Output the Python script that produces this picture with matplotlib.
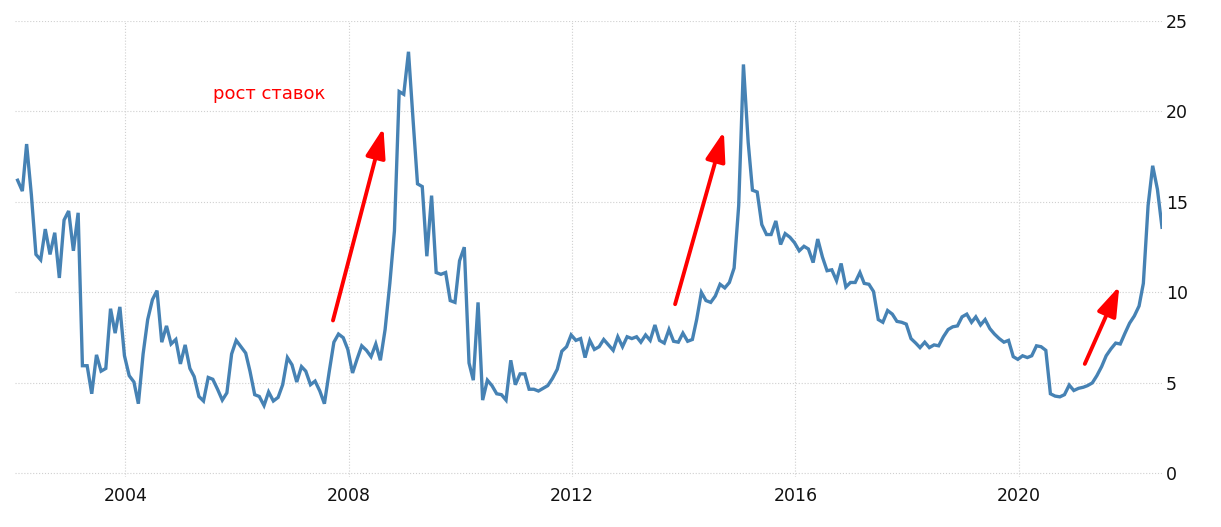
import matplotlib
matplotlib.use('Agg')
import matplotlib.pyplot as plt
import matplotlib.dates as mdates
import pandas as pd
from datetime import datetime

# monthly rate, Jan 2002 .. Jul 2022
rate = [
    16.2, 15.6, 18.2, 15.4, 12.1, 11.8, 13.5, 12.1, 13.3, 10.8, 14.0, 14.5,   # 2002
    12.3, 14.4, 5.95, 5.95, 4.4, 6.55, 5.65, 5.8, 9.1, 7.75, 9.2, 6.5,        # 2003
    5.4, 5.05, 3.85, 6.6, 8.5, 9.6, 10.1, 7.25, 8.15, 7.15, 7.4, 6.05,        # 2004
    7.1, 5.8, 5.35, 4.25, 4.0, 5.3, 5.2, 4.65, 4.05, 4.45, 6.6, 7.35,         # 2005
    7.0, 6.65, 5.65, 4.35, 4.25, 3.75, 4.5, 4.0, 4.2, 4.9, 6.4, 6.0,          # 2006
    5.05, 5.9, 5.65, 4.9, 5.1, 4.55, 3.85, 5.6, 7.25, 7.7, 7.5, 6.85,         # 2007
    5.55, 6.35, 7.05, 6.8, 6.45, 7.15, 6.25, 7.95, 10.5, 13.4, 21.1, 20.95,   # 2008
    23.3, 19.4, 16.0, 15.85, 12.0, 15.35, 11.1, 11.0, 11.1, 9.55, 9.45, 11.75,  # 2009
    12.5, 6.1, 5.15, 9.45, 4.05, 5.15, 4.85, 4.4, 4.35, 4.05, 6.25, 4.9,      # 2010
    5.5, 5.5, 4.65, 4.65, 4.55, 4.7, 4.85, 5.25, 5.75, 6.75, 7.0, 7.65,       # 2011
    7.35, 7.45, 6.4, 7.35, 6.85, 7.0, 7.4, 7.1, 6.8, 7.55, 7.0, 7.55,         # 2012
    7.45, 7.55, 7.25, 7.65, 7.35, 8.2, 7.35, 7.2, 7.95, 7.3, 7.25, 7.75,      # 2013
    7.3, 7.4, 8.5, 10.0, 9.55, 9.45, 9.8, 10.45, 10.25, 10.55, 11.35, 14.8,   # 2014
    22.6, 18.3, 15.65, 15.55, 13.75, 13.2, 13.2, 13.95, 12.65, 13.25, 13.05, 12.75,  # 2015
    12.3, 12.55, 12.4, 11.65, 12.95, 11.95, 11.2, 11.25, 10.65, 11.6, 10.3, 10.55,   # 2016
    10.55, 11.1, 10.5, 10.45, 10.05, 8.5, 8.35, 9.0, 8.8, 8.4, 8.35, 8.25,    # 2017
    7.45, 7.2, 6.95, 7.25, 6.95, 7.1, 7.05, 7.55, 7.95, 8.1, 8.15, 8.65,      # 2018
    8.8, 8.35, 8.65, 8.2, 8.5, 8.0, 7.7, 7.45, 7.25, 7.35, 6.45, 6.3,         # 2019
    6.5, 6.4, 6.5, 7.05, 7.0, 6.8, 4.4, 4.27, 4.23, 4.35, 4.88, 4.58,         # 2020
    4.7, 4.76, 4.85, 5.0, 5.4, 5.9, 6.5, 6.88, 7.2, 7.15, 7.75, 8.3,          # 2021
    8.7, 9.25, 10.5, 14.8, 17.0, 15.7, 13.6,                                  # 2022
]
months = pd.date_range('2002-01-01', periods=len(rate), freq='MS') + pd.Timedelta(days=25)

year_ticks = [2004, 2008, 2012, 2016, 2020]
y_ticks = [0, 5, 10, 15, 20, 25]

# arrows: (tail, tip) in (date, value)
arrows = [
    ((datetime(2007, 9, 20), 8.45), (datetime(2008, 8, 15), 19.1)),
    ((datetime(2013, 11, 5), 9.35), (datetime(2014, 9, 20), 18.9)),
    ((datetime(2021, 3, 8), 6.05), (datetime(2021, 10, 20), 10.35)),
]

fig = plt.figure(figsize=(12.21, 5.27), dpi=100)
ax = fig.add_axes([15 / 1221, 50 / 527, 1147 / 1221, 456 / 527])

ax.plot(months, rate, color='#4682b4', lw=2.4, solid_joinstyle='miter')

for tail, tip in arrows:
    ax.annotate('', xy=tip, xytext=tail,
                arrowprops=dict(arrowstyle='-|>,head_length=0.9,head_width=0.3',
                                color='#ff0000', lw=2.8, mutation_scale=20,
                                shrinkA=0, shrinkB=0))

ax.text(datetime(2006, 8, 1), 20.95, 'рост ставок', color='#ff0000',
        fontsize=13, ha='center', va='center')

ax.set_xlim(datetime(2002, 1, 9), datetime(2022, 7, 26))
ax.set_ylim(-0.2, 25)
ax.set_xticks([datetime(y, 1, 1) for y in year_ticks])
ax.xaxis.set_major_formatter(mdates.DateFormatter('%Y'))
ax.set_yticks(y_ticks)
ax.yaxis.tick_right()
ax.tick_params(axis='both', length=0, labelsize=12.5, colors='#111111')
ax.tick_params(axis='x', pad=7)
ax.tick_params(axis='y', pad=3)
ax.grid(True, color='#d0d0d0', linestyle=':', lw=0.8)
ax.set_axisbelow(True)
for s in ax.spines.values():
    s.set_visible(False)

fig.savefig('out.png', dpi=100, facecolor='white')
